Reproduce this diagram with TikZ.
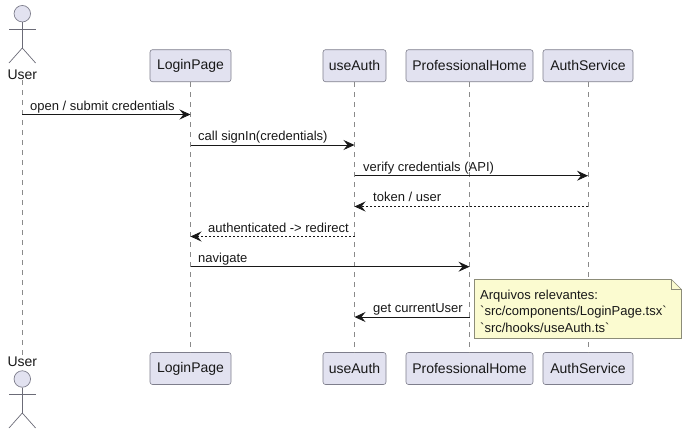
\documentclass[tikz,border=0pt]{standalone}
\usepackage{fontspec}
\setmainfont{Liberation Sans}[Ligatures=TeXOff]
\usetikzlibrary{arrows.meta,calc}
\definecolor{partfill}{HTML}{E2E2F0}
\definecolor{partline}{HTML}{7E7E8C}
\definecolor{lifeline}{HTML}{8A8A8A}
\definecolor{notefill}{HTML}{FBFBD0}
\definecolor{noteline}{HTML}{8C8C78}
\definecolor{ink}{HTML}{181818}
\newcommand{\btick}{\char96\relax}
\tikzset{
  x=1pt,y=-1pt,
  partbox/.style={draw=partline,fill=partfill,rounded corners=2.5pt,line width=.6pt,minimum height=32pt,inner xsep=0pt,inner ysep=0pt,font=\fontsize{14}{16}\selectfont,text=ink},
  actorlabel/.style={font=\fontsize{14}{16}\selectfont,text=ink,inner sep=0pt},
  lifel/.style={draw=lifeline,line width=.6pt,dash pattern=on 5pt off 5pt},
  stick/.style={draw=partline!85!black,line width=.7pt},
  msg/.style={draw=ink,line width=.85pt,-{Stealth[length=11pt,width=10pt,inset=4pt]}},
  reply/.style={msg,dash pattern=on 2pt off 2pt},
  msglabel/.style={font=\fontsize{13}{15}\selectfont,text=ink,inner sep=0pt,anchor=base west},
  notetext/.style={font=\fontsize{13}{16.5}\selectfont,text=ink,inner sep=0pt,anchor=north west,align=left}
}
\begin{document}
\begin{tikzpicture}
\useasboundingbox (0,0) rectangle (687,434);
% participants
\node[partbox,minimum width=81pt] (lt) at (190.5,65.7) {LoginPage};
\node[partbox,minimum width=63pt] (at) at (354.5,65.7) {useAuth};
\node[partbox,minimum width=127pt] (pt) at (469.5,65.7) {ProfessionalHome};
\node[partbox,minimum width=90pt] (st) at (588,65.7) {AuthService};
\node[partbox,minimum width=81pt] (lb) at (190.5,368.5) {LoginPage};
\node[partbox,minimum width=63pt] (ab) at (354.5,368.5) {useAuth};
\node[partbox,minimum width=127pt] (pb) at (469.5,368.5) {ProfessionalHome};
\node[partbox,minimum width=90pt] (sb) at (588,368.5) {AuthService};
\node[actorlabel] (ut) at (22.3,75) {User};
\node[actorlabel] (ub) at (22.3,362) {User};
% lifelines
\draw[lifel] (ut.south) -- (ub.north);
\draw[lifel] (lt.south) -- (lb.north);
\draw[lifel] (at.south) -- (ab.north);
\draw[lifel] (pt.south) -- (pb.north);
\draw[lifel] (st.south) -- (sb.north);
% actors
\node[circle,draw=partline,fill=partfill,line width=.7pt,minimum size=16.5pt,inner sep=0pt] (h1) at (22.3,13.7) {};
\draw[stick] (h1.south) -- (22.3,48) coordinate (w1);
\draw[stick] (9,29) -- (35.6,29);
\draw[stick] (9,63) -- (w1) -- (35.6,63);
\node[circle,draw=partline,fill=partfill,line width=.7pt,minimum size=16.5pt,inner sep=0pt] (h2) at (22.3,379) {};
\draw[stick] (h2.south) -- (22.3,413) coordinate (w2);
\draw[stick] (9,394) -- (35.6,394);
\draw[stick] (9,428) -- (w2) -- (35.6,428);
% messages
\draw[msg] (ut.south |- 0,114.5) -- (lt.south |- 0,114.5);
\node[msglabel] (m1) at (30,110) {open / submit credentials};
\draw[msg] (lt.south |- 0,145) -- (at.south |- 0,145);
\node[msglabel] (m2) at (198,140.5) {call signIn(credentials)};
\draw[msg] (at.south |- 0,175.7) -- (st.south |- 0,175.7);
\node[msglabel] (m3) at (363,171) {verify credentials (API)};
\draw[reply] (st.south |- 0,206.5) -- (at.south |- 0,206.5);
\node[msglabel] (m4) at (373,201.5) {token / user};
\draw[reply] (at.south |- 0,236.5) -- (lt.south |- 0,236.5);
\node[msglabel] (m5) at (208,232) {authenticated -> redirect};
\draw[msg] (lt.south |- 0,266.7) -- (pt.south |- 0,266.7);
\node[msglabel] (m6) at (198,262) {navigate};
\draw[msg] (pt.south |- 0,317) -- (at.south |- 0,317);
\node[msglabel] (m7) at (373,312.5) {get currentUser};
% note
\draw[draw=noteline,fill=notefill,line width=.6pt] (474.5,279.5) -- (671.5,279.5) -- (681.5,289.5) -- (681.5,338.5) -- (474.5,338.5) -- cycle;
\draw[draw=noteline,line width=.6pt] (671.5,279.5) -- (671.5,289.5) -- (681.5,289.5);
\node[notetext] (note) at (480,289.7) {Arquivos relevantes:\\\btick src/components/LoginPage.tsx\btick\\\btick src/hooks/useAuth.ts\btick};
\end{tikzpicture}
\end{document}
